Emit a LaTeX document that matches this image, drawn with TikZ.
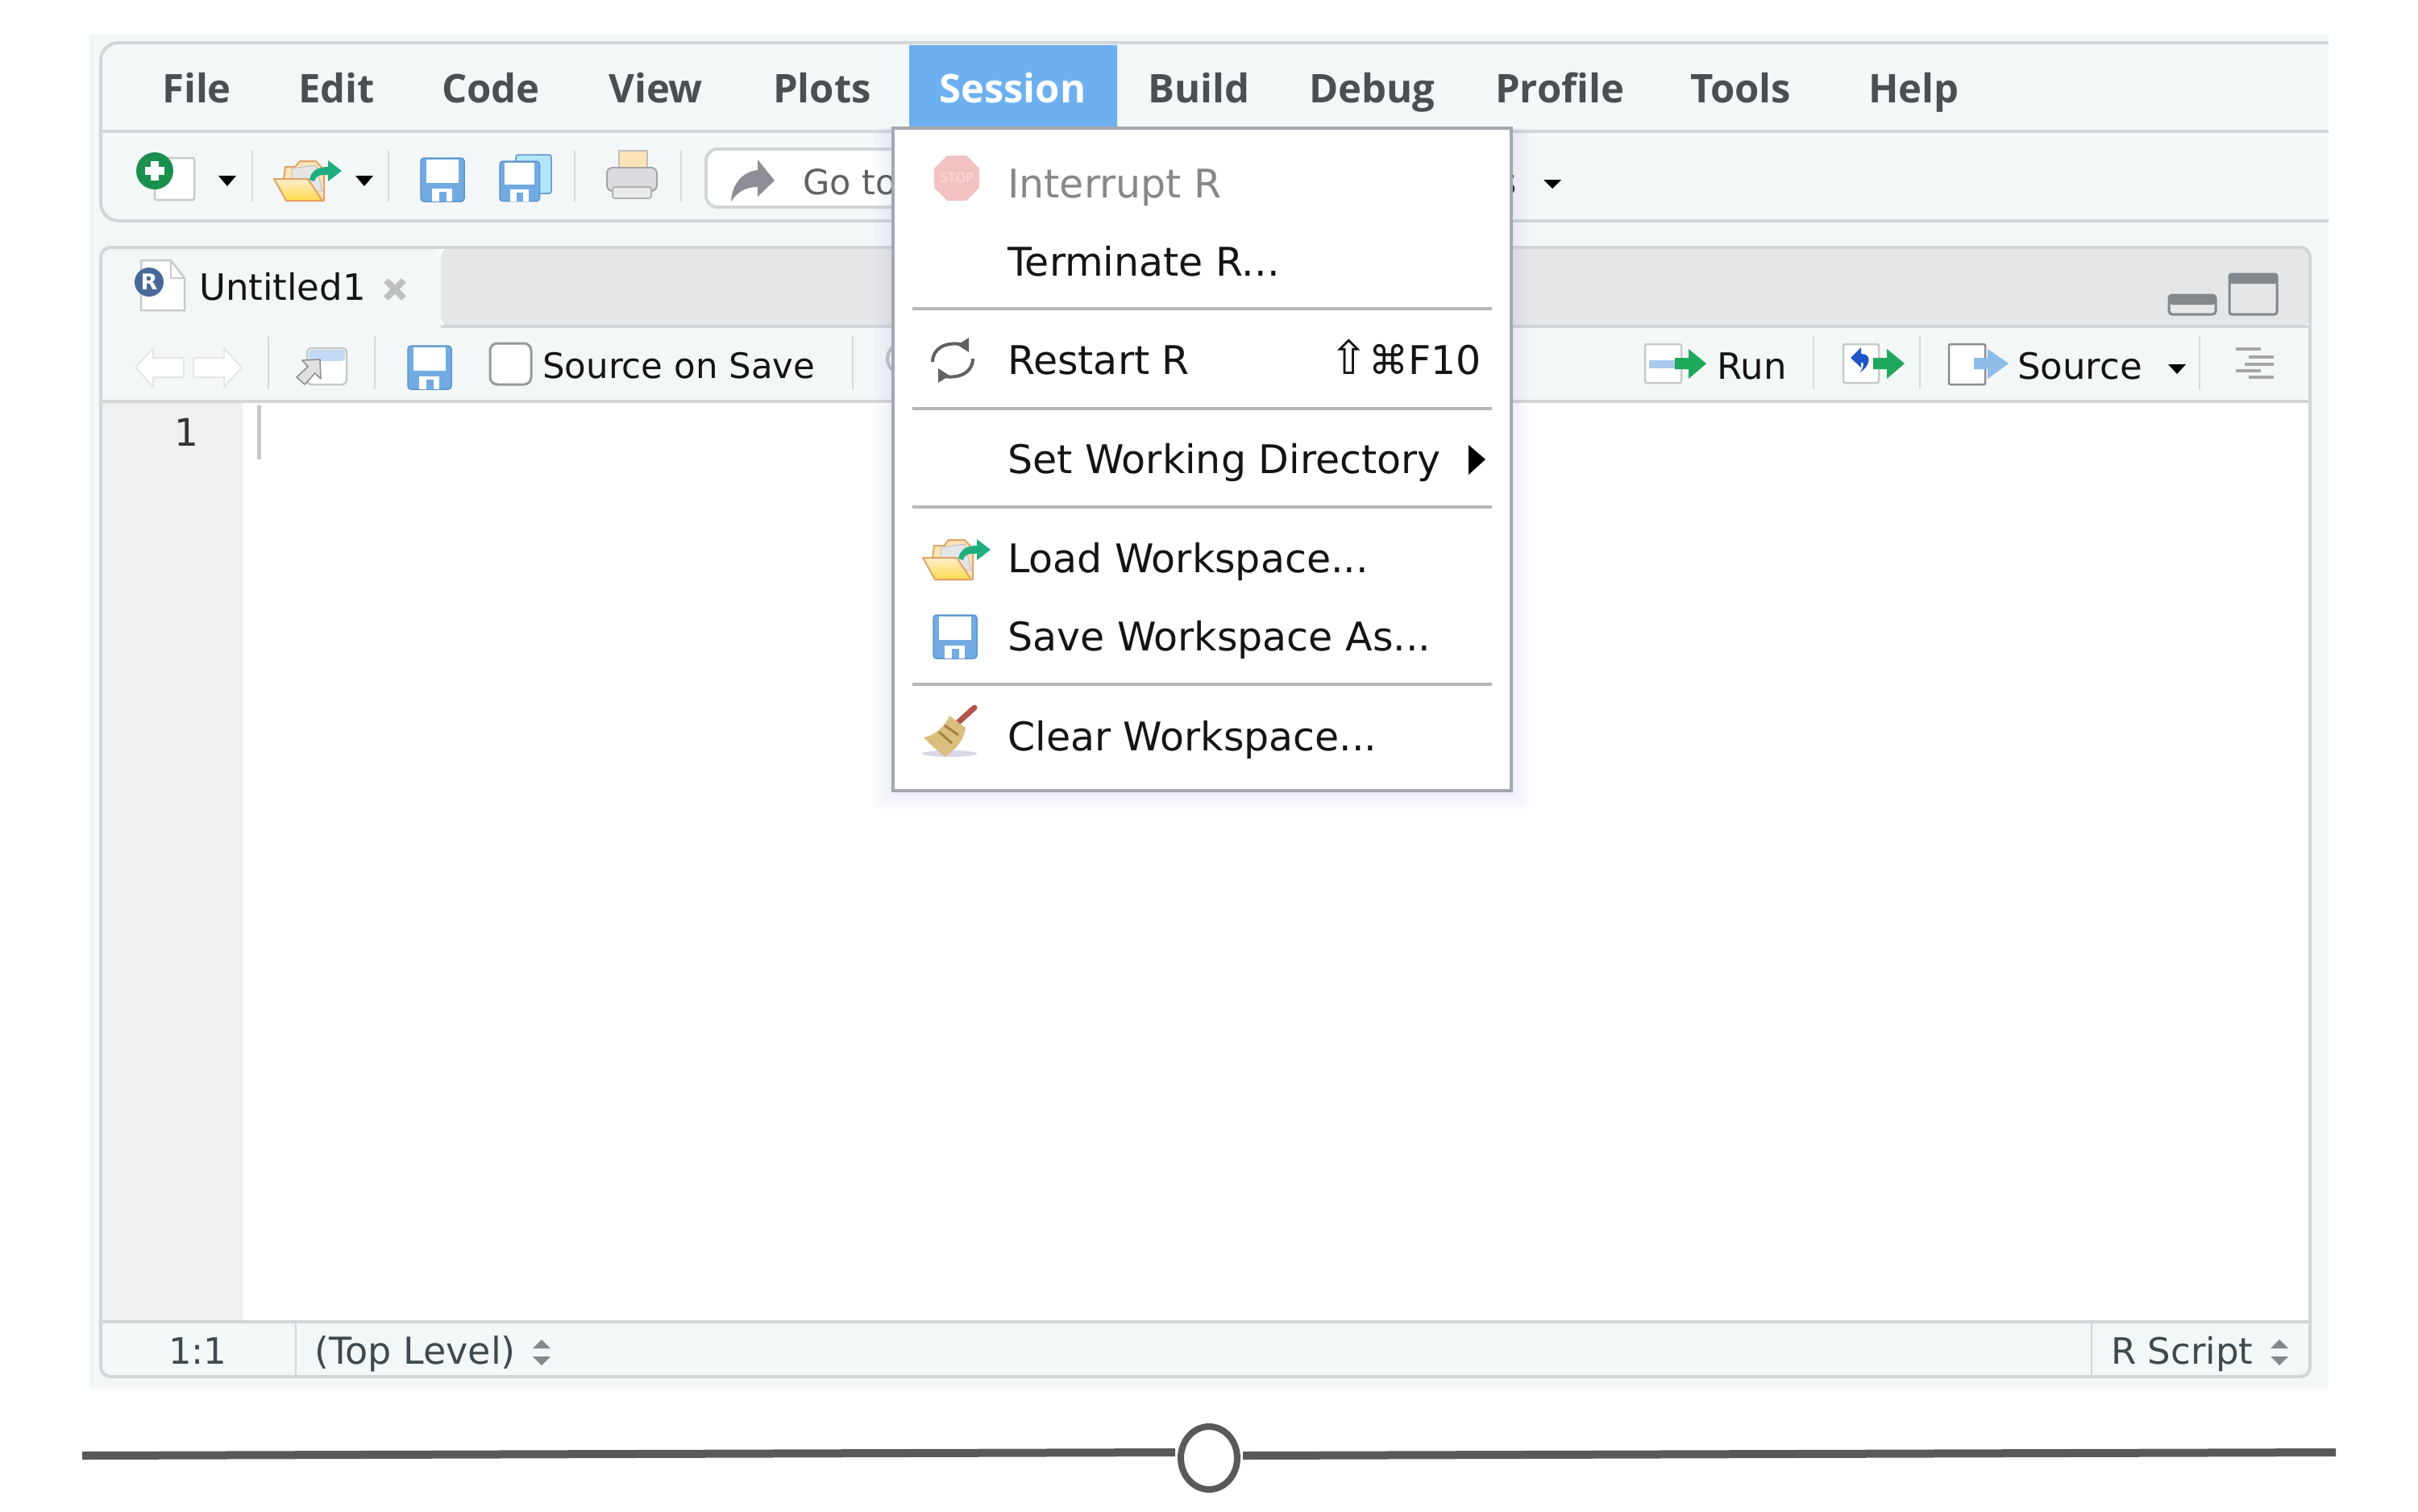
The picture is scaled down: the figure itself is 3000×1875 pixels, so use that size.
\documentclass[tikz,border=0pt]{standalone}
\usepackage{fontspec}
\setmainfont{DejaVu Sans}
\newfontfamily\barfont{Open Sans}
\definecolor{panel}{HTML}{F4F7F8}
\definecolor{frameline}{HTML}{D3D6D8}
\definecolor{stripgrey}{HTML}{E4E6E8}
\definecolor{gutter}{HTML}{F0F0F0}
\definecolor{menutxt}{HTML}{4B4F52}
\definecolor{selblue}{HTML}{6CB0F0}
\definecolor{sepgrey}{HTML}{B4B6B8}
\definecolor{menuedge}{HTML}{A4A8B0}
\definecolor{floppy}{HTML}{71ABE2}
\definecolor{floppyedge}{HTML}{5E95CB}
\definecolor{okgreen}{HTML}{1FA85C}
\definecolor{tealgreen}{HTML}{20AE80}
\definecolor{statustxt}{HTML}{3F4A4F}
\definecolor{darkline}{HTML}{595959}
\definecolor{iconedge}{HTML}{C6CACC}
\definecolor{paneicon}{HTML}{82888C}
\definecolor{rbadgeblue}{HTML}{49699B}
\definecolor{runbar}{HTML}{A9C8EC}
\definecolor{rerunblue}{HTML}{1E55C8}
\definecolor{broomtan}{HTML}{D9BE7E}
\definecolor{broomband}{HTML}{A6803F}
\definecolor{broomred}{HTML}{B5544F}
\tikzset{
  barlabel/.style={anchor=base west,inner sep=0pt,text=menutxt,font=\barfont\bfseries\fontsize{49}{52}\selectfont},
  itemlabel/.style={anchor=base west,inner sep=0pt,text=black!92,font=\fontsize{49}{52}\selectfont},
  toollabel/.style={anchor=base west,inner sep=0pt,text=black!92,font=\fontsize{45}{48}\selectfont},
  statuslabel/.style={anchor=base west,inner sep=0pt,text=statustxt,font=\fontsize{45}{48}\selectfont},
  framed/.style={draw=frameline,line width=4pt},
  divider/.style={draw=iconedge!70,line width=2.5pt},
  menusep/.style={draw=sepgrey,line width=4pt},
  blacktri/.style={fill=black,draw=none},
  docpage/.style={fill=white,draw=iconedge,line width=2.5pt,rounded corners=2pt},
  pics/floppyicon/.style={code={
    \fill[floppy,draw=floppyedge,line width=1.5pt,rounded corners=4pt] (0,0) rectangle (54,54);
    \fill[white] (7,2) rectangle (47,31);
    \fill[white] (14,38) rectangle (39,54);
    \fill[floppy] (23,42) rectangle (32,54);
  }},
  pics/foldericon/.style={code={
    \fill[fill=yellow!25!orange!25,draw=black!20!orange!60,line width=2pt,line join=round] (12,26)--(14,10)--(26,10)--(32,3)--(52,3)--(62,14)--(62,52)--(15,52)--cycle;
    \fill[black!10,draw=black!25,line width=1pt] (22,12)--(52,8)--(60,40)--(22,40)--cycle;
    \shade[top color=yellow!30!orange!20,bottom color=yellow!60!orange!70,draw=black!20!orange!60,line width=2pt,line join=round] (0,25)--(42,25)--(60,52)--(15,52)--cycle;
    \fill[tealgreen] (44,26) .. controls (46,14) and (56,10) .. (67,10) -- (67,2) -- (84,15) -- (67,28) -- (67,20) .. controls (58,20) and (52,20) .. (50,28) -- cycle;
  }},
  pics/greenarrow/.style={code={
    \fill[okgreen] (0,11)--(17,11)--(17,0)--(39,18)--(17,37)--(17,25)--(0,25)--cycle;
  }},
  pics/blueback/.style={code={
    \fill[fill=white,draw=black!10,line width=2pt,line join=round] (0,24)--(22,0)--(22,12)--(60,12)--(60,36)--(22,36)--(22,48)--cycle;
  }},
  pics/spinner/.style={code={
    \fill[paneicon] (0,-11)--(11,0)--(-11,0)--cycle;
    \fill[paneicon] (0,21)--(11,10)--(-11,10)--cycle;
  }}
}
\begin{document}
\begin{tikzpicture}[x=1pt,y=-1pt]
\useasboundingbox (0,0) rectangle (3000,1875);
\fill[white] (0,0) rectangle (3000,1875);
\fill[panel] (111,43) rectangle (2889,1723);

% top toolbar frame
\path[framed,fill=panel,rounded corners=22pt] (2889,53) -- (125,53) -- (125,274) -- (2889,274);
\draw[framed] (125,163) -- (2889,163);
\fill[selblue] (1128,56) rectangle (1386,158);

\node[barlabel] (mfile) at (201,127) {File};
\node[barlabel] (medit) at (370,127) {Edit};
\node[barlabel] (mcode) at (548,127) {Code};
\node[barlabel] (mview) at (755,127) {View};
\node[barlabel] (mplots) at (959,127) {Plots};
\node[barlabel,text=white] (msession) at (1165,127) {Session};
\node[barlabel] (mbuild) at (1424,127) {Build};
\node[barlabel] (mdebug) at (1624,127) {Debug};
\node[barlabel] (mprofile) at (1855,127) {Profile};
\node[barlabel] (mtools) at (2097,127) {Tools};
\node[barlabel] (mhelp) at (2318,127) {Help};

% main toolbar
\foreach \x in {313,482,713,845} \draw[divider] (\x,187) -- (\x,250);
\draw[docpage] (192,196) rectangle (241,248);
\fill[okgreen!85!black] (192,212) ellipse (23 and 23);
\fill[white] (187,200) rectangle (197,224);
\fill[white] (180,207) rectangle (204,217);
\fill[blacktri] (271,218) -- (293,218) -- (282,231) -- cycle;
\pic at (340,197) {foldericon};
\fill[blacktri] (441,218) -- (463,218) -- (452,231) -- cycle;
\pic at (522,196) {floppyicon};
\fill[fill=cyan!30,draw=floppyedge,line width=1.5pt,rounded corners=3pt] (640,192) rectangle (684,240);
\pic[scale=.92] at (620,200) {floppyicon};
\fill[fill=yellow!20!orange!25,draw=black!25,line width=1.5pt] (768,187) rectangle (803,216);
\fill[fill=blue!10!black!14,draw=black!35,line width=2pt,rounded corners=7pt] (753,208) rectangle (815,237);
\fill[fill=blue!10!black!8,draw=black!30,line width=2pt,rounded corners=3pt] (760,232) rectangle (808,246);
\draw[framed,fill=white,rounded corners=14pt] (1200,185) -- (876,185) -- (876,257) -- (1200,257);
\fill[black!15!blue!5!gray!85] (940,198) -- (961,224) -- (940,244) -- (940,232) .. controls (925,232) and (915,238) .. (907,250) .. controls (908,230) and (920,213) .. (940,211) -- cycle;
\node[anchor=base west,inner sep=0pt,text=black!62,font=\fontsize{43}{46}\selectfont] (goto) at (996,241) {Go to};
\node[anchor=base west,inner sep=0pt,text=black!80,font=\fontsize{45}{48}\selectfont] (addins) at (1858,241) {s};
\fill[blacktri] (1915,223) -- (1937,223) -- (1926,234) -- cycle;

% editor frame
\fill[white] (125,307) [rounded corners=12pt] rectangle (2866,1708);
\fill[panel,rounded corners=12pt] (125,405) -- (125,307) -- (547,307) -- (547,405) -- cycle;
\fill[stripgrey,rounded corners=12pt] (547,307) -- (2866,307) -- (2866,405) -- (547,405) -- cycle;
\fill[panel] (125,400) rectangle (547,405);
\fill[panel] (125,405) rectangle (2866,498);
\fill[panel] (125,1640) rectangle (2866,1708);
\fill[gutter] (127,498) rectangle (301,1640);
\draw[framed,rounded corners=12pt] (125,307) rectangle (2866,1708);
\draw[framed] (547,405) -- (2866,405);
\draw[framed] (125,498) -- (2866,498);
\draw[framed] (125,1640) -- (2866,1640);
\draw[framed,line width=2.5pt] (367,1640) -- (367,1708);
\draw[framed,line width=2.5pt] (2595,1640) -- (2595,1708);
\draw[line width=5pt,draw=black!22] (321,503) -- (321,570);

% tab
\path[docpage,rounded corners=0pt] (175,323) -- (212,323) -- (229,345) -- (229,385) -- (175,385) -- cycle;
\draw[iconedge,line width=2pt] (212,323) -- (212,345) -- (229,345);
\fill[rbadgeblue] (185,350) circle (18);
\node[inner sep=0pt,text=white,font=\bfseries\fontsize{27}{29}\selectfont] (rbadge) at (185,350) {R};
\node[toollabel] (tabtitle) at (247,372) {Untitled1};
\draw[black!25,line width=8pt] (479,348) -- (501,370) (501,348) -- (479,370);

% editor toolbar
\pic at (168,432) {blueback};
\pic[xscale=-1] at (300,432) {blueback};
\foreach \x in {333,465,1058,2250,2382,2729} \draw[divider] (\x,417) -- (\x,483);
\path[docpage,rounded corners=5pt] (381,477) -- (381,432) -- (430,432) -- (430,477) -- cycle;
\fill[runbar!70,rounded corners=4pt] (383,434) rectangle (428,448);
\fill[fill=black!12,draw=black!45,line width=1.5pt,line join=round] (397,446) -- (398,470) -- (391,463) -- (378,477) -- (368,468) -- (382,455) -- (375,447) -- cycle;
\pic at (506,429) {floppyicon};
\draw[fill=white,draw=black!40,line width=3pt,rounded corners=9pt] (608,426) rectangle (659,477);
\node[toollabel,font=\fontsize{43.5}{46}\selectfont] (sos) at (673,469) {Source on Save};
\draw[draw=blue!20!black!25,line width=4pt] (1120,445) circle (19);

\draw[docpage] (2041,427) rectangle (2086,475);
\fill[runbar] (2046,447) rectangle (2078,457);
\pic at (2078,433) {greenarrow};
\node[toollabel] (run) at (2130,470) {Run};
\draw[docpage] (2287,427) rectangle (2331,475);
\fill[rerunblue] (2296,444) -- (2309,431) -- (2309,439) .. controls (2322,439) and (2322,452) .. (2308,462) .. controls (2314,452) and (2312,448) .. (2309,450) -- (2309,456) -- cycle;
\pic at (2324,433) {greenarrow};
\draw[docpage,draw=black!45] (2418,427) rectangle (2463,477);
\fill[floppy!80] (2449,444)--(2466,444)--(2466,433)--(2492,451)--(2466,470)--(2466,458)--(2449,458)--cycle;
\node[toollabel] (source) at (2503,470) {Source};
\fill[blacktri] (2690,452) -- (2712,452) -- (2701,464) -- cycle;
\draw[black!35,line width=3.5pt]
  (2774,433) -- (2805,433) (2790,443) -- (2821,443) (2785,452) -- (2821,452) (2774,460) -- (2805,460) (2790,468) -- (2821,468);

% pane icons
\draw[paneicon,line width=3pt,rounded corners=4pt,fill=stripgrey] (2691,390) -- (2691,366) -- (2749,366) -- (2749,390) -- cycle;
\fill[paneicon,rounded corners=4pt] (2691,366) rectangle (2749,378);
\draw[paneicon,line width=3pt,rounded corners=3pt,fill=stripgrey] (2766,390) -- (2766,340) -- (2825,340) -- (2825,390) -- cycle;
\fill[paneicon,rounded corners=3pt] (2766,340) rectangle (2825,352);

\node[anchor=base,inner sep=0pt,text=black!80,font=\fontsize{47}{50}\selectfont] (lineno) at (231,553) {1};

% status bar
\node[statuslabel] (pos) at (209,1692) {1:1};
\node[statuslabel,font=\fontsize{46}{48}\selectfont] (scope) at (390,1692) {(Top Level)};
\pic at (672,1673) {spinner};
\node[statuslabel] (ftype) at (2619,1692) {R Script};
\pic at (2828,1673) {spinner};

% dropdown shadow
\foreach \g in {22,16,10,5}
  \fill[blue!30!gray,opacity=.02] (1108-\g,159) rectangle (1875+\g,982+\g);
\fill[white,draw=menuedge,line width=4pt] (1108,159) rectangle (1875,981);

\foreach \y in {383,507,629,849} \draw[menusep] (1132,\y) -- (1851,\y);

\fill[red!20!white!95!black] (1175,193) -- (1199,193) -- (1215,209) -- (1215,233) -- (1199,249) -- (1175,249) -- (1159,233) -- (1159,209) -- cycle;
\node[inner sep=0pt,text=white!85!red,font=\fontsize{16}{18}\selectfont] (stoptxt) at (1187,221) {STOP};
\node[itemlabel,text=black!47] (interrupt) at (1250,245) {Interrupt R};
\node[itemlabel] (terminate) at (1250,342) {Terminate R...};
\node[itemlabel] (restart) at (1250,464) {Restart R};
\node[itemlabel,anchor=base east] (shortcut) at (1838,464) {{\fontsize{58}{58}\selectfont ⇧}⌘F10};
\node[itemlabel] (setwd) at (1250,587) {Set Working Directory};
\fill[blacktri] (1822,552) -- (1843,570) -- (1822,589) -- cycle;
\node[itemlabel] (load) at (1250,710) {Load Workspace...};
\node[itemlabel] (savews) at (1250,807) {Save Workspace As...};
\node[itemlabel] (clear) at (1250,931) {Clear Workspace...};

% refresh icon
\draw[black!62,line width=4pt] (1157,449) .. controls (1157,433) and (1172,424) .. (1192,427);
\fill[black!62] (1202,419) -- (1202,437) -- (1188,428) -- cycle;
\draw[black!62,line width=4pt] (1207,445) .. controls (1207,461) and (1192,470) .. (1172,467);
\fill[black!62] (1164,475) -- (1164,457) -- (1178,466) -- cycle;

\pic at (1145,667) {foldericon};
\pic at (1158,763) {floppyicon};

% broom
\fill[blue!25!gray!40,opacity=.6] (1178,935) ellipse (34 and 4);
\draw[broomred,line width=7pt,line cap=round] (1209,878) -- (1188,897);
\fill[broomtan] (1178,888) -- (1198,903) .. controls (1196,918) and (1186,930) .. (1172,939) .. controls (1162,930) and (1152,922) .. (1146,915) .. controls (1160,912) and (1172,902) .. (1178,888) -- cycle;
\draw[broomband,line width=3pt] (1172,900) -- (1189,912) (1165,908) -- (1181,922);

% slider
\coordinate (slidL) at (102,1806);
\coordinate (slidLend) at (1458,1802);
\coordinate (slidRstart) at (1542,1806);
\coordinate (slidR) at (2898,1802);
\draw[darkline,line width=10pt] (slidL) -- (slidLend);
\draw[darkline,line width=10pt] (slidRstart) -- (slidR);
\draw[darkline,line width=8pt,fill=white] (1500,1809) ellipse (35 and 39);
\end{tikzpicture}
\end{document}
